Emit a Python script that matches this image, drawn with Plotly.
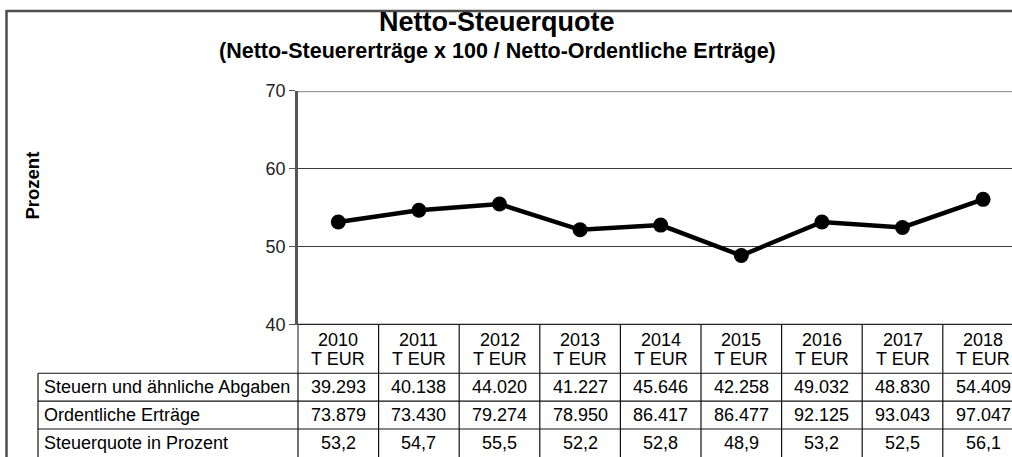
import plotly.graph_objects as go

# ---- data ----
years = [2010, 2011, 2012, 2013, 2014, 2015, 2016, 2017, 2018]
unit_label = "T EUR"
steuern = [39293, 40138, 44020, 41227, 45646, 42258, 49032, 48830, 54409]
ertraege = [73879, 73430, 79274, 78950, 86417, 86477, 92125, 93043, 97047]
quote = [53.2, 54.7, 55.5, 52.2, 52.8, 48.9, 53.2, 52.5, 56.1]
row_labels = ["Steuern und ähnliche Abgaben", "Ordentliche Erträge", "Steuerquote in Prozent"]
title = "Netto-Steuerquote"
subtitle = "(Netto-Steuererträge x 100 / Netto-Ordentliche Erträge)"
y_title = "Prozent"
y_ticks = [40, 50, 60, 70]

# ---- layout geometry (target pixels in the final picture) ----
W, H = 1012, 475
PL, PR, PT, PB = 298, 1012, 89, 324   # plot area
COLW = 80.6
SY, OY = 0.962, 7.7                  # observed vertical mapping of the capture


def px(x):
    return x / W


def py(y):
    yf = (y - OY) / SY
    return 1 - yf / H


FONT = "Liberation Sans, Arial, sans-serif"
TXT = 18


def de_int(v):
    return f"{v:,}".replace(",", ".")


def de_dec(v):
    return f"{v:.1f}".replace(".", ",")


fig = go.Figure()
fig.add_trace(go.Scatter(
    x=years, y=quote, mode="lines+markers",
    line=dict(color="black", width=4.5),
    marker=dict(color="black", size=15),
    hoverinfo="x+y", showlegend=False,
))

x0 = years[0] - 0.5
x1 = x0 + (PR - PL) / COLW

shapes = []
ann = []

# frame
shapes.append(dict(type="line", xref="paper", yref="paper", x0=px(6.5), x1=px(6.5), y0=min(py(7.5), 1), y1=0,
                   line=dict(color="#4d4d4d", width=2.5)))
shapes.append(dict(type="line", xref="paper", yref="paper", x0=px(6.5), x1=1, y0=min(py(7.5), 1) - 0.002,
                   y1=min(py(7.5), 1) - 0.002, line=dict(color="#4d4d4d", width=2.5)))

# top plot border (70) and bottom (40)
shapes.append(dict(type="line", xref="paper", yref="y", x0=px(PL), x1=1, y0=70, y1=70,
                   line=dict(color="#9a9a9a", width=2.5), layer="above"))
shapes.append(dict(type="line", xref="paper", yref="y", x0=px(PL), x1=1, y0=40, y1=40,
                   line=dict(color="#222222", width=2.5), layer="above"))

# table: left line of year columns
shapes.append(dict(type="line", xref="paper", yref="paper", x0=px(PL), x1=px(PL), y0=py(PB), y1=py(372.5),
                   line=dict(color="#8a8a8a", width=2)))
shapes.append(dict(type="line", xref="paper", yref="paper", x0=px(PL), x1=px(PL), y0=py(372.5), y1=0,
                   line=dict(color="#111111", width=1.2)))
# column dividers
for yr in years[:-1]:
    shapes.append(dict(type="line", xref="x", yref="paper", x0=yr + 0.5, x1=yr + 0.5, y0=py(PB), y1=0,
                       line=dict(color="#111111", width=1.2)))
# row lines
row_tops = [372.5, 400.5, 428.5]
for yy in row_tops:
    shapes.append(dict(type="line", xref="paper", yref="paper", x0=px(38), x1=1, y0=py(yy), y1=py(yy),
                       line=dict(color="#111111", width=1.2)))
# label column left line
shapes.append(dict(type="line", xref="paper", yref="paper", x0=px(38), x1=px(38), y0=py(372.5), y1=0,
                   line=dict(color="#111111", width=1.2)))

# titles
ann.append(dict(text=title, xref="paper", yref="paper", x=px(497), y=py(20), showarrow=False,
                xanchor="center", yanchor="middle", font=dict(family=FONT, size=27, color="black", weight="bold")))
ann.append(dict(text=subtitle, xref="paper", yref="paper", x=px(497), y=py(49), showarrow=False,
                xanchor="center", yanchor="middle", font=dict(family=FONT, size=21.5, color="black", weight="bold")))
ann.append(dict(text=y_title, xref="paper", yref="paper", x=px(33), y=py(184), showarrow=False, textangle=-90,
                xanchor="center", yanchor="middle", font=dict(family=FONT, size=18.5, color="black", weight="bold")))

# header row
for yr in years:
    ann.append(dict(text=str(yr), xref="x", yref="paper", x=yr, y=py(339), showarrow=False,
                    xanchor="center", yanchor="middle", font=dict(family=FONT, size=TXT, color="black")))
    ann.append(dict(text=unit_label, xref="x", yref="paper", x=yr, y=py(358), showarrow=False,
                    xanchor="center", yanchor="middle", font=dict(family=FONT, size=TXT, color="black")))

row_centers = [386.5, 414.5, 443]
rows = [[de_int(v) for v in steuern], [de_int(v) for v in ertraege], [de_dec(v) for v in quote]]
for lab, yc, vals in zip(row_labels, row_centers, rows):
    ann.append(dict(text=lab, xref="paper", yref="paper", x=px(42), y=py(yc), showarrow=False,
                    xanchor="left", yanchor="middle", font=dict(family=FONT, size=TXT, color="black")))
    for yr, t in zip(years, vals):
        ann.append(dict(text=t, xref="x", yref="paper", x=yr, y=py(yc), showarrow=False,
                        xanchor="center", yanchor="middle", font=dict(family=FONT, size=TXT, color="black")))

fig.update_layout(
    width=W, height=H,
    margin=dict(l=0, r=0, t=0, b=0),
    paper_bgcolor="white", plot_bgcolor="white",
    font=dict(family=FONT, color="black"),
    xaxis=dict(domain=[px(PL), 1], range=[x0, x1], showgrid=False, zeroline=False,
               showticklabels=False, ticks="", showline=False, fixedrange=True),
    yaxis=dict(domain=[py(PB), py(PT)], range=[40, 70], tickvals=y_ticks,
               showgrid=True, gridcolor="#3a3a3a", gridwidth=1, zeroline=False,
               showline=True, linecolor="#555555", linewidth=2.5,
               ticks="outside", ticklen=6, tickcolor="#555555", tickwidth=1,
               tickfont=dict(family=FONT, size=18, color="#222222"), fixedrange=True),
    shapes=shapes, annotations=ann,
)

post = (
    "document.documentElement.style.margin='0';"
    "document.documentElement.style.overflow='hidden';"
    "document.body.style.margin='0';document.body.style.padding='0';"
    "document.body.style.overflow='hidden';"
    "var gd=document.querySelector('.plotly-graph-div');"
    "gd.style.position='fixed';gd.style.top='0px';gd.style.left='0px';"
)

fig.write_html("out.html", config={"displayModeBar": False}, post_script=post)
